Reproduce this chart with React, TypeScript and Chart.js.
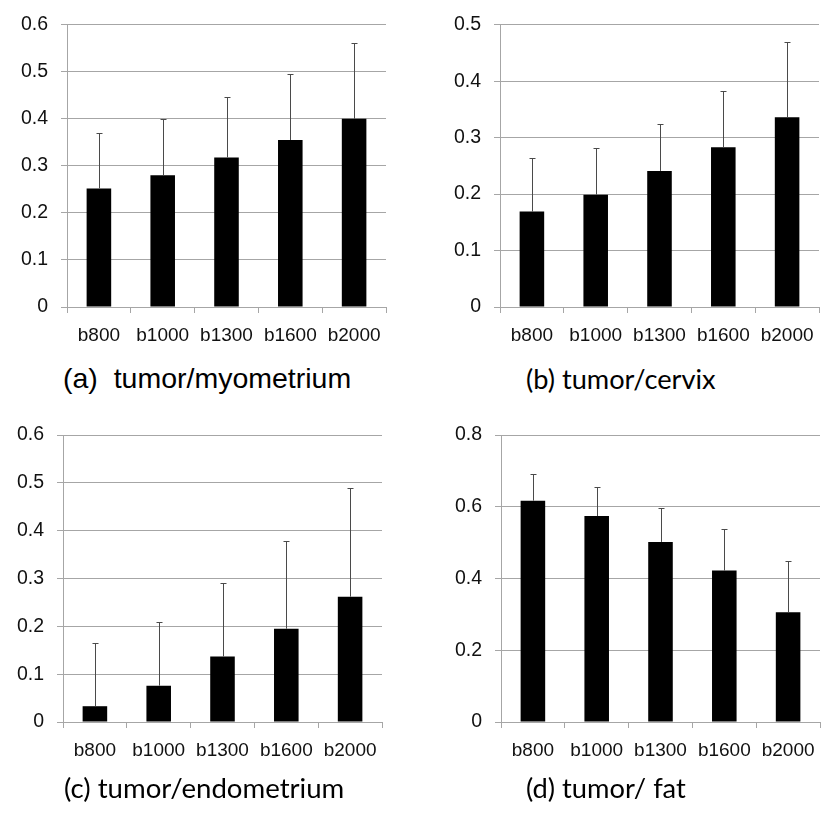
import React, { useEffect, useRef } from "react";
import { Chart, registerables } from "chart.js";

Chart.register(...registerables);

// ---- data ----
const categories = ["b800", "b1000", "b1300", "b1600", "b2000"];

const myometriumMean = [0.252, 0.28, 0.318, 0.355, 0.4];
const myometriumSD = [0.118, 0.119, 0.129, 0.141, 0.162];

const cervixMean = [0.169, 0.199, 0.241, 0.283, 0.336];
const cervixSD = [0.095, 0.082, 0.084, 0.1, 0.133];

const endometriumMean = [0.033, 0.076, 0.137, 0.195, 0.262];
const endometriumSD = [0.132, 0.134, 0.154, 0.184, 0.227];

const fatMean = [0.617, 0.574, 0.502, 0.422, 0.306];
const fatSD = [0.073, 0.08, 0.095, 0.117, 0.144];

const GRID = "#a6a6a6";
const ERR = "#4a4a4a";
const TICK_FONT = "'Liberation Sans', Arial, sans-serif";
const CAL_FONT = "Lato, 'Open Sans', sans-serif";

type PanelProps = {
  left: number;
  top: number;
  width: number;
  height: number;
  padTop: number;
  yWidth: number;
  padRight: number;
  xHeight: number;
  means: number[];
  sds: number[];
  yMax: number;
  yStep: number;
};

function Panel(p: PanelProps) {
  const ref = useRef<HTMLCanvasElement | null>(null);
  useEffect(() => {
    if (!ref.current) return;
    const sds = p.sds;
    const errorBars = {
      id: "errorBars",
      afterDatasetsDraw(chart: any) {
        const ctx = chart.ctx;
        const meta = chart.getDatasetMeta(0);
        const yScale = chart.scales.y;
        const vals = chart.data.datasets[0].data as number[];
        ctx.save();
        ctx.strokeStyle = ERR;
        ctx.lineWidth = 1;
        meta.data.forEach((bar: any, i: number) => {
          const x = Math.round(bar.x) + 0.5;
          const yTop = Math.round(yScale.getPixelForValue(vals[i] + sds[i])) + 0.5;
          const yBase = bar.y;
          ctx.beginPath();
          ctx.moveTo(x, yBase);
          ctx.lineTo(x, yTop);
          ctx.moveTo(x - 3, yTop);
          ctx.lineTo(x + 3, yTop);
          ctx.stroke();
        });
        ctx.restore();
      },
    };
    const chart = new Chart(ref.current, {
      type: "bar",
      data: {
        labels: categories,
        datasets: [
          {
            data: p.means,
            backgroundColor: "#000",
            borderWidth: 0,
            categoryPercentage: 1,
            barPercentage: 0.385,
          },
        ],
      },
      options: {
        responsive: false,
        animation: false,
        devicePixelRatio: 1,
        layout: { padding: { top: p.padTop, right: p.padRight, left: 0, bottom: 0 } },
        plugins: { legend: { display: false }, tooltip: { enabled: false }, title: { display: false } },
        scales: {
          x: {
            type: "category",
            offset: true,
            grid: {
              display: true,
              drawOnChartArea: false,
              drawTicks: true,
              tickLength: 6,
              color: GRID,
              offset: true,
            },
            border: { display: true, color: GRID },
            ticks: {
              color: "#111",
              font: { family: TICK_FONT, size: 19 },
              padding: 11,
              maxRotation: 0,
              autoSkip: false,
            },
            afterFit: (s: any) => {
              s.height = p.xHeight;
            },
          },
          y: {
            min: 0,
            max: p.yMax,
            grid: { color: GRID, tickLength: 6, drawTicks: true },
            border: { display: true, color: GRID },
            ticks: {
              stepSize: p.yStep,
              color: "#111",
              font: { family: TICK_FONT, size: 19.5 },
              padding: 13,
              callback: (v: any) => (Number(v) === 0 ? "0" : Number(v).toFixed(1)),
            },
            afterFit: (s: any) => {
              s.width = p.yWidth;
            },
          },
        },
      },
      plugins: [errorBars],
    });
    return () => chart.destroy();
  }, []);
  return (
    <canvas
      ref={ref}
      width={p.width}
      height={p.height}
      style={{ position: "absolute", left: p.left, top: p.top, width: p.width, height: p.height }}
    />
  );
}

function Label(props: { left: number; top: number; size: number; family: string; text: string }) {
  return (
    <div
      style={{
        position: "absolute",
        left: props.left,
        top: props.top,
        fontFamily: props.family,
        fontSize: props.size,
        lineHeight: 1,
        whiteSpace: "pre",
        color: "#000",
      }}
    >
      {props.text}
    </div>
  );
}

export default function App() {
  return (
    <div style={{ position: "absolute", left: 0, top: 0, width: 838, height: 823, background: "#fff", overflow: "hidden" }}>
      <Panel left={0} top={0} width={400} height={360} padTop={21} yWidth={67} padRight={14} xHeight={53}
        means={myometriumMean} sds={myometriumSD} yMax={0.6} yStep={0.1} />
      <Panel left={418} top={0} width={420} height={360} padTop={21} yWidth={82} padRight={19} xHeight={53}
        means={cervixMean} sds={cervixSD} yMax={0.5} yStep={0.1} />
      <Panel left={0} top={400} width={400} height={380} padTop={35} yWidth={63} padRight={18} xHeight={58}
        means={endometriumMean} sds={endometriumSD} yMax={0.6} yStep={0.1} />
      <Panel left={418} top={400} width={420} height={380} padTop={35} yWidth={83} padRight={18} xHeight={58}
        means={fatMean} sds={fatSD} yMax={0.8} yStep={0.2} />
      <Label left={63} top={364} size={28.5} family={TICK_FONT} text={"(a)  tumor/myometrium"} />
      <Label left={526} top={365} size={27.2} family={CAL_FONT} text={"(b) tumor/cervix"} />
      <Label left={64} top={774} size={27.6} family={CAL_FONT} text={"(c) tumor/endometrium"} />
      <Label left={526} top={774} size={27.3} family={CAL_FONT} text={"(d) tumor/ fat"} />
    </div>
  );
}
